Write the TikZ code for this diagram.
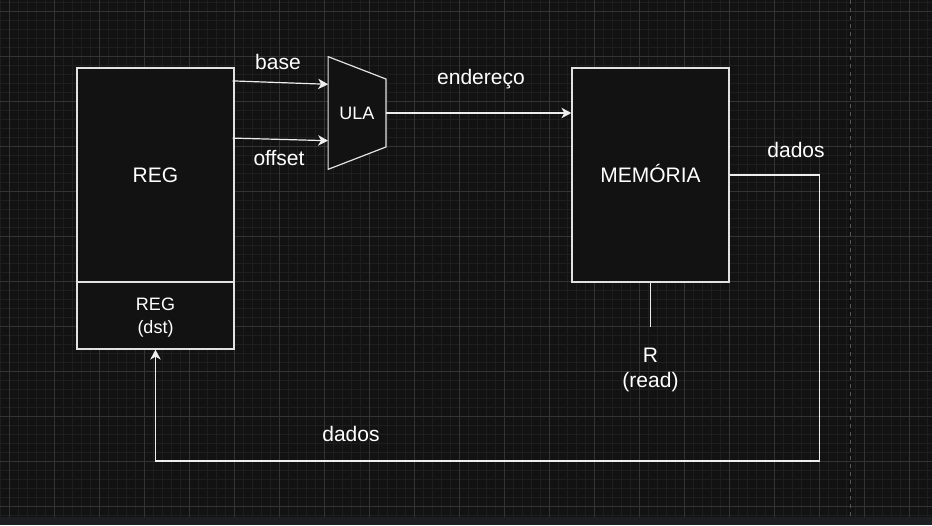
\documentclass[tikz,border=0pt]{standalone}
\usepackage{fontspec}
\setmainfont{Liberation Sans}
\usetikzlibrary{arrows.meta,calc}
\definecolor{bg}{HTML}{121212}
\definecolor{gridminor}{HTML}{1E1E1E}
\definecolor{gridmajor}{HTML}{333333}
\definecolor{barclr}{HTML}{1D1E21}
\definecolor{boxline}{HTML}{E2E2E2}
\definecolor{lineclr}{HTML}{EEEEEE}
\definecolor{dashclr}{HTML}{555555}
\newcommand{\bigtxt}{\fontsize{21}{25}\selectfont}
\newcommand{\smalltxt}{\fontsize{18}{23}\selectfont}
\tikzset{
  boxnode/.style={draw=boxline, fill=bg, line width=1.2pt, inner sep=0pt, text=white, align=center},
  lbl/.style={text=white, inner sep=0pt, font=\bigtxt, align=center},
  conn/.style={draw=lineclr, line width=1.2pt},
  arr/.style={conn, -{Stealth[length=10pt,width=10.5pt,inset=3pt]}},
  gmin/.style={draw=gridminor, line width=0.8pt},
  gmaj/.style={draw=gridmajor, line width=0.8pt}
}
\begin{document}
\begin{tikzpicture}[x=1pt,y=-1pt]
\useasboundingbox (0,0) rectangle (932,525);
\fill[bg] (0,0) rectangle (932,525);
% grid
\foreach \i in {0,...,103} {\pgfmathsetmacro\xx{0.3+9*\i} \draw[gmin] (\xx,0) -- (\xx,516.7);}
\foreach \i in {0,...,57} {\pgfmathsetmacro\yy{2.3+9*\i} \draw[gmin] (0,\yy) -- (932,\yy);}
\foreach \i in {0,...,20} {\pgfmathsetmacro\xx{9.3+45*\i} \draw[gmaj] (\xx,0) -- (\xx,516.7);}
\foreach \i in {0,...,11} {\pgfmathsetmacro\yy{11.3+45*\i} \draw[gmaj] (0,\yy) -- (932,\yy);}
\draw[dashclr, line width=1pt, dash pattern=on 4pt off 4pt] (850.3,0) -- (850.3,516.7);
\fill[barclr] (0,516.7) rectangle (932,525);

% nodes
\node[boxnode, minimum width=157pt, minimum height=214pt, font=\bigtxt] (reg) at (155.5,175) {REG};
\node[boxnode, minimum width=157pt, minimum height=67pt] (regdst) at (155.5,315.5) {};
\node[text=white, font=\smalltxt, inner sep=0pt, align=center] (regdsttxt) at (155.5,318) {REG\\(dst)};
\node[boxnode, minimum width=157pt, minimum height=214pt] (mem) at (650.5,175) {};
\node[text=white, font=\bigtxt, inner sep=0pt] (memtxt) at (650.5,173) {MEMÓRIA};
\node[inner sep=0pt, minimum width=57.4pt, minimum height=112.3pt] (ula) at (357,113) {};
\draw[draw=boxline, fill=bg, line width=1.2pt] (ula.north west) -- ($(ula.east)+(0,-34)$) -- ($(ula.east)+(0,34)$) -- (ula.south west) -- cycle;
\node[text=white, font=\smalltxt, inner sep=0pt] (ulatxt) at (ula.center) {ULA};
\node[lbl] (rlabel) at (650.5,369.5) {R\\(read)};
\coordinate (rend) at (650.5,327);
\coordinate (corner) at (819.5,461);

% edge labels
\node[lbl] (lbase) at (278,62) {base};
\node[lbl] (loffset) at (279,158.5) {offset};
\node[lbl] (lend) at (481,79) {endereço};
\node[lbl] (ldados1) at (796,150) {dados};
\node[lbl] (ldados2) at (351,434) {dados};

% connectors
\draw[arr] ($(reg.north east)+(-2,13.5)$) -- ($(ula.west)+(0,-28.7)$);
\draw[arr] ($(reg.north east)+(-2,70.7)$) -- ($(ula.west)+(0,27.7)$);
\draw[arr] (ula.east) -- (ula.east -| mem.west);
\draw[conn] (mem.south) -- (rend);
\draw[arr] (mem.east) -| (corner) -| (regdst.south);
\end{tikzpicture}
\end{document}
